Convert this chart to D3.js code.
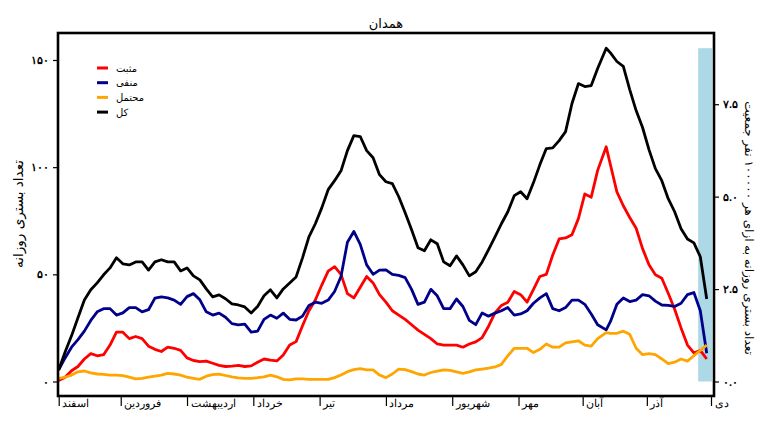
<!DOCTYPE html>
<html>
<head>
<meta charset="utf-8">
<script src="https://cdn.jsdelivr.net/npm/d3@7"></script>
<style>
    html, body { margin: 0; padding: 0; background: #ffffff; }
    svg { display: block; font-family: "DejaVu Sans", "Noto Sans", sans-serif; }
    .tick line { stroke: #000000; stroke-width: 1.2; }
</style>
</head>
<body>
<svg id="chart" width="767" height="430"></svg>
<script>
/* =========================================================
   Data (7-day averages)
   day index counted from 1 Esfand
   ========================================================= */

const DAYS = [
    0, 3, 6, 9, 12, 15, 18, 21, 24, 27, 30, 33, 36, 39, 42, 45, 48, 51, 54, 57,
    60, 63, 66, 69, 72, 75, 78, 81, 84, 87, 90, 93, 96, 99, 102, 105, 108, 111, 114, 117,
    120, 123, 126, 129, 132, 135, 138, 141, 144, 147, 150, 153, 156, 159, 162, 165, 168, 171, 174, 177,
    180, 183, 186, 189, 192, 195, 198, 201, 204, 207, 210, 213, 216, 219, 222, 225, 228, 231, 234, 237,
    240, 243, 246, 249, 252, 256, 258, 261, 264, 267, 270, 273, 276, 279, 282, 285, 288, 291, 294, 297,
    300, 303
];

const POSITIVE = [
    0.5, 2, 5, 7, 10.5, 13, 12, 12.5, 17, 23, 23, 20, 21, 20, 16.5, 15, 14, 16, 15.5, 14.5,
    11, 9.8, 9.3, 9.5, 8.5, 7.5, 7, 7.2, 7.5, 7, 7.3, 9, 10.5, 10, 9.6, 12.4, 17, 18.6, 26, 33,
    38, 45, 51.5, 53.6, 50, 41, 39, 44, 49, 46, 40.5, 37, 33, 31, 29, 26.5, 24, 22, 20, 17.5,
    17, 17, 17, 16, 17.5, 18.5, 20.5, 25.8, 32, 35.5, 37, 42, 40.5, 37, 43, 49, 50, 59, 66.5, 67,
    68.5, 76, 87.5, 86, 98.5, 109.5, 101, 88.5, 82, 76.5, 71.5, 62, 54.5, 49.8, 48.2, 41.2, 33.7, 25, 17, 13.3,
    14.5, 10.5
];

const NEGATIVE = [
    5.5, 11, 16, 19.5, 23.5, 28.5, 32.5, 34, 34, 31, 32, 34.5, 34.5, 32.5, 33.5, 38.9, 39.5, 39, 38, 36,
    39.6, 41, 38.1, 32.5, 31, 31.9, 30, 27, 26.4, 26.8, 23, 23.5, 29, 31, 29.5, 31.9, 29, 28.7, 30.5, 35.5,
    37, 36.5, 38, 42, 49, 65, 70, 64, 54.4, 50, 52, 52.1, 50, 49.5, 48.5, 43, 36, 37, 43, 40,
    34, 34, 38.5, 35, 28.5, 26.5, 32, 30.5, 31.9, 33, 34.5, 31, 31.5, 33, 36.5, 39, 41, 34, 33, 34.5,
    38, 38, 36, 31.5, 26.5, 24.1, 28, 36, 39, 37.3, 38, 40.5, 40, 37.5, 35.7, 35.5, 35, 36.5, 40.5, 41.5,
    33, 13.2
];

const PROBABLE = [
    1.5, 2, 3, 4.5, 4.9, 4, 3.5, 3.3, 3, 3, 2.7, 2, 1.2, 1.5, 2, 2.5, 3, 3.8, 3.5, 3,
    2, 1.5, 1, 2.5, 3.2, 3.4, 2.8, 2.2, 1.7, 1.5, 1.5, 1.8, 2.2, 3, 2.2, 1, 0.8, 1.2, 1.2, 1,
    1, 1, 1, 1.8, 3, 4.6, 5.5, 6, 5.4, 5.4, 3, 1.8, 3.5, 5.8, 5.5, 4.6, 3.5, 3, 4.2, 4.8,
    5.4, 5.2, 4.5, 3.8, 4.5, 5.4, 5.8, 6.2, 6.8, 8, 12, 15.5, 15.5, 15.5, 13.5, 15, 17.5, 16, 16, 18,
    18.5, 19, 17, 16.5, 20, 22.8, 22.5, 22.5, 23.5, 22, 15.5, 12.5, 13, 12.5, 10.5, 8.3, 9, 10.5, 9.5, 12,
    14.5, 17
];

const TOTAL = [
    5.4, 13.8, 21.3, 29.7, 38, 42.8, 46, 49.8, 53, 57.7, 54.9, 54.4, 55.8, 55.8, 52, 55.8, 56.8, 55.8, 55.8, 51.6,
    53, 49.3, 47.4, 43.2, 39.5, 40.4, 38.6, 36.2, 35.7, 34.8, 32, 35, 40, 42.8, 39, 43.2, 46, 48.8, 57.7, 67.5,
    73.6, 81, 89.5, 93.7, 98.3, 107.7, 114.7, 114.3, 107.7, 104.4, 96.5, 93.2, 92.3, 86.2, 78.7, 70.8, 62.4, 61, 66.1, 64.3,
    55.8, 54, 58.6, 54.4, 49.3, 51.2, 55.8, 61.5, 67.5, 73.6, 79.2, 86.7, 88.5, 85.3, 92.8, 101.2, 108.7, 109, 112.4, 116.6,
    129.7, 139, 137.6, 138.1, 146, 155.5, 153.3, 149.3, 147, 136.2, 126.4, 118.5, 108.2, 99.3, 93.7, 85.3, 79.2, 71.3, 66.5, 64.7,
    58.2, 38.5
];

const SERIES_NAMES  = ["مثبت", "منفی", "محتمل", "کل"];
const SERIES_VALUES = [POSITIVE, NEGATIVE, PROBABLE, TOTAL];

const MONTH_NAMES = ["اسفند", "فروردین", "اردیبهشت", "خرداد", "تیر", "مرداد",
                     "شهریور", "مهر", "آبان", "آذر", "دی"];
const MONTH_START = [0, 29, 60, 91, 122, 153, 184, 215, 245, 275, 305];

const LEFT_TICKS  = [0, 50, 100, 150];
const RIGHT_TICKS = [0, 2.5, 5, 7.5];

const POP_100K = 17.25;          // Hamadan population / 100000
const HIGHLIGHT_DAYS = [299, 305.5];

/* =========================================================
   Layout and styles
   ========================================================= */

const FRAME  = { left: 58, top: 33, right: 714, bottom: 396 };
const COLORS = ["#ff0000", "#00008b", "#ffa500", "#000000"];

const FA_DIGITS = "۰۱۲۳۴۵۶۷۸۹";
const toFa = s => String(s).replace(/\d/g, c => FA_DIGITS[c]);

const svg = d3.select("#chart");

/* =========================================================
   Scales
   ========================================================= */

const x = d3.scaleLinear()
    .domain([0, 305])
    .range([58.7, 711]);

const y = d3.scaleLinear()
    .domain([0, 150])
    .range([381.5, 60]);

const yRight = y.copy()
    .domain(y.domain().map(v => v / POP_100K));

/* =========================================================
   Highlight band (recent days, not final)
   ========================================================= */

svg.append("rect")
    .attr("x", x(HIGHLIGHT_DAYS[0]))
    .attr("y", y(d3.max(TOTAL)))
    .attr("width", x(HIGHLIGHT_DAYS[1]) - x(HIGHLIGHT_DAYS[0]))
    .attr("height", y(0) - y(d3.max(TOTAL)))
    .attr("fill", "#add8e6");

/* =========================================================
   Lines
   ========================================================= */

const line = d3.line()
    .x((_, i) => x(DAYS[i]))
    .y(v => y(v));

SERIES_VALUES.forEach((vals, k) => {
    svg.append("path")
        .datum(vals)
        .attr("fill", "none")
        .attr("stroke", COLORS[k])
        .attr("stroke-width", 2.8)
        .attr("stroke-linejoin", "round")
        .attr("d", line);
});

/* =========================================================
   Frame and axes
   ========================================================= */

svg.append("rect")
    .attr("x", FRAME.left)
    .attr("y", FRAME.top)
    .attr("width", FRAME.right - FRAME.left)
    .attr("height", FRAME.bottom - FRAME.top)
    .attr("fill", "none")
    .attr("stroke", "#000000")
    .attr("stroke-width", 2.6);

const leftAxis = svg.append("g")
    .attr("transform", `translate(${FRAME.left - 1},0)`)
    .call(d3.axisLeft(y).tickValues(LEFT_TICKS).tickSize(4).tickPadding(4)
        .tickFormat(v => toFa(v)));
leftAxis.select(".domain").remove();
leftAxis.selectAll("text")
    .attr("font-size", 11)
    .attr("font-weight", 700)
    .attr("fill", "#000000");

const rightAxis = svg.append("g")
    .attr("transform", `translate(${FRAME.right + 1},0)`)
    .call(d3.axisRight(yRight).tickValues(RIGHT_TICKS).tickSize(4).tickPadding(4)
        .tickFormat(v => toFa(d3.format(".1f")(v))));
rightAxis.select(".domain").remove();
rightAxis.selectAll("text")
    .attr("font-size", 11)
    .attr("font-weight", 700)
    .attr("fill", "#000000");

const bottomAxis = svg.append("g")
    .attr("transform", `translate(0,${FRAME.bottom})`)
    .call(d3.axisBottom(x).tickValues(MONTH_START).tickSize(10)
        .tickFormat((_, i) => MONTH_NAMES[i]));
bottomAxis.select(".domain").remove();
bottomAxis.selectAll("line").attr("stroke-width", 1.4);
bottomAxis.selectAll("text")
    .attr("x", 3)
    .attr("y", 6)
    .attr("dy", "0.5em")
    .attr("text-anchor", "start")
    .attr("font-size", 10.5)
    .attr("fill", "#000000");

/* =========================================================
   Titles
   ========================================================= */

svg.append("text")
    .attr("x", 386)
    .attr("y", 28)
    .attr("text-anchor", "middle")
    .attr("font-size", 13)
    .attr("fill", "#000000")
    .text("همدان");

svg.append("text")
    .attr("transform", "translate(23,214) rotate(-90)")
    .attr("text-anchor", "middle")
    .attr("font-size", 13.5)
    .attr("fill", "#000000")
    .text("تعداد بستری روزانه");

svg.append("text")
    .attr("transform", "translate(745,228) rotate(90)")
    .attr("text-anchor", "middle")
    .attr("font-size", 12)
    .attr("fill", "#000000")
    .text("تعداد بستری روزانه به ازای هر " + toFa(100000) + " نفر جمعیت");

/* =========================================================
   Legend
   ========================================================= */

const legend = svg.append("g")
    .attr("transform", "translate(97,68)");

SERIES_NAMES.forEach((name, k) => {
    const row = legend.append("g")
        .attr("transform", `translate(0,${k * 14.7})`);
    row.append("line")
        .attr("x1", 0).attr("x2", 11)
        .attr("stroke", COLORS[k])
        .attr("stroke-width", 3);
    row.append("text")
        .attr("x", 19)
        .attr("dy", "0.35em")
        .attr("font-size", 10)
        .attr("fill", "#000000")
        .text(name);
});
</script>
</body>
</html>
